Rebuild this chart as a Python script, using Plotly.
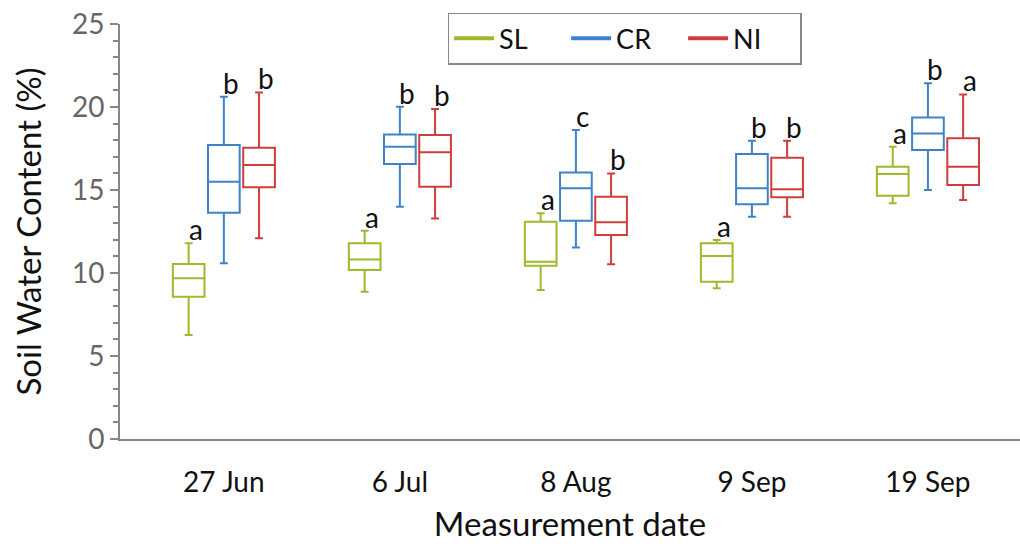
import plotly.graph_objects as go

dates = ["27 Jun", "6 Jul", "8 Aug", "9 Sep", "19 Sep"]
treatments = ["SL", "CR", "NI"]
colors = {"SL": "#9CBB2C", "CR": "#3F82C8", "NI": "#CF3E3E"}
offsets = {"SL": -0.2, "CR": 0.0, "NI": 0.2}

lower = {
    "SL": [6.27, 8.87, 8.98, 9.08, 14.2],
    "CR": [10.58, 13.99, 11.53, 13.39, 15.0],
    "NI": [12.09, 13.29, 10.52, 13.39, 14.4],
}
q1 = {
    "SL": [8.57, 10.18, 10.44, 9.48, 14.66],
    "CR": [13.63, 16.57, 13.15, 14.14, 17.41],
    "NI": [15.16, 15.2, 12.29, 14.56, 15.3],
}
median = {
    "SL": [9.68, 10.82, 10.68, 11.02, 15.96],
    "CR": [15.5, 17.61, 15.1, 15.1, 18.41],
    "NI": [16.5, 17.27, 13.05, 15.04, 16.4],
}
q3 = {
    "SL": [10.54, 11.79, 13.09, 11.79, 16.4],
    "CR": [17.71, 18.35, 16.06, 17.17, 19.36],
    "NI": [17.55, 18.31, 14.6, 16.95, 18.11],
}
upper = {
    "SL": [11.79, 12.55, 13.6, 11.99, 17.61],
    "CR": [20.62, 20.02, 18.61, 17.97, 21.43],
    "NI": [20.88, 19.88, 16.0, 17.97, 20.76],
}
letters = {
    "SL": ["a", "a", "a", "a", "a"],
    "CR": ["b", "b", "c", "b", "b"],
    "NI": ["b", "b", "b", "b", "a"],
}

FONT = "Lato"
fig = go.Figure()

for t in treatments:
    xs = [i + offsets[t] for i in range(len(dates))]
    fig.add_trace(go.Box(
        x=xs, q1=q1[t], median=median[t], q3=q3[t],
        lowerfence=lower[t], upperfence=upper[t],
        width=0.18, whiskerwidth=0.25,
        fillcolor="rgba(255,255,255,0)",
        line=dict(color=colors[t], width=2),
        boxpoints=False, showlegend=False, name=t,
        hoverinfo="skip",
    ))
    # legend line entries
    fig.add_trace(go.Scatter(
        x=[None], y=[None], mode="lines", name=t,
        line=dict(color=colors[t], width=4), showlegend=True,
    ))
    for i, lab in enumerate(letters[t]):
        fig.add_annotation(
            x=xs[i], y=upper[t][i], text=lab, showarrow=False,
            xanchor="center", yanchor="bottom", xshift=7, yshift=-5,
            font=dict(family=FONT, size=28, color="#111111"),
        )

fig.update_layout(
    width=1020, height=548,
    margin=dict(l=120, r=0, t=24, b=109),
    plot_bgcolor="white", paper_bgcolor="white",
    boxmode="overlay",
    font=dict(family=FONT),
    legend=dict(
        orientation="h", x=0.364, y=1.027, xanchor="left", yanchor="top",
        bordercolor="#888888", borderwidth=1.5,
        font=dict(family=FONT, size=27, color="#111111"),
        itemwidth=40, entrywidthmode="pixels", entrywidth=62,
        bgcolor="white",
    ),
    xaxis=dict(
        range=[-0.59, 4.523],
        tickmode="array", tickvals=list(range(len(dates))), ticktext=dates,
        showline=True, linecolor="#8C8682", linewidth=2,
        ticks="", showgrid=False, zeroline=False,
        ticklabelstandoff=17,
        tickfont=dict(family=FONT, size=28, color="#111111"),
        title=dict(text="Measurement date", font=dict(family=FONT, size=33, color="#111111"), standoff=16),
    ),
    yaxis=dict(
        range=[0, 25], dtick=5,
        showline=True, linecolor="#8C8682", linewidth=2,
        ticks="outside", ticklen=8, tickwidth=2, tickcolor="#8C8682",
        minor=dict(dtick=1, ticks="outside", ticklen=5, tickwidth=1.5, tickcolor="#8C8682"),
        showgrid=False, zeroline=False,
        tickfont=dict(family=FONT, size=28, color="#666666"),
        title=dict(text="Soil Water Content (%)", font=dict(family=FONT, size=33, color="#111111"), standoff=20),
    ),
)

fig.write_html("out.html")
